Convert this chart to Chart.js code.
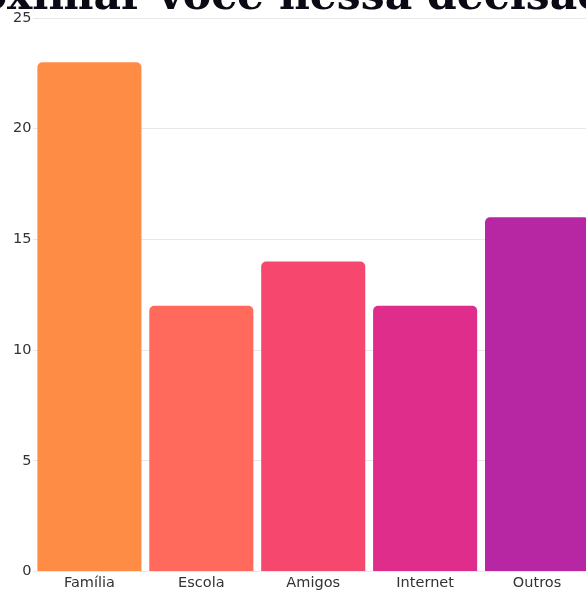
<!DOCTYPE html>
<html>
<head>
<meta charset="utf-8">
<script src="https://cdn.jsdelivr.net/npm/chart.js@4"></script>
<style>
    html, body { margin: 0; padding: 0; background: #fff; overflow: hidden; }
    body { width: 586px; height: 594px; position: relative; }
    #titulo {
        position: absolute;
        left: -101px;
        top: -31px;
        white-space: nowrap;
        font-family: "DejaVu Serif", serif;
        font-weight: bold;
        font-size: 42.5px;
        color: #0a0a14;
        z-index: 2;
    }
    #wrap { position: absolute; left: 0; top: 0; width: 600px; height: 594px; }
</style>
</head>
<body>
<div id="titulo">aproximar você nessa decisão?</div>
<div id="wrap"><canvas id="grafico"></canvas></div>
<script>
const categorias = ["Família", "Escola", "Amigos", "Internet", "Outros"];
const valores = [23, 12, 14, 12, 16];
const cores = ["#ff8c45", "#ff6a5c", "#f6486f", "#de2d8b", "#b727a3"];
const ticksY = [0, 5, 10, 15, 20, 25];

const fonteEixo = { family: "DejaVu Sans", size: 14.5 };

const ctx = document.getElementById("grafico");

new Chart(ctx, {
    type: "bar",
    data: {
        labels: categorias,
        datasets: [{
            data: valores,
            backgroundColor: cores,
            borderRadius: 5,
            borderSkipped: "bottom",
            categoryPercentage: 1,
            barPercentage: 0.93
        }]
    },
    options: {
        responsive: true,
        maintainAspectRatio: false,
        animation: false,
        layout: { padding: { top: 18, left: 11, right: 7, bottom: -1 } },
        plugins: {
            legend: { display: false },
            tooltip: { enabled: false }
        },
        scales: {
            x: {
                grid: { display: false, drawTicks: false },
                border: { display: false },
                ticks: {
                    color: "#333",
                    padding: 3,
                    font: fonteEixo
                }
            },
            y: {
                min: 0,
                max: 25,
                afterBuildTicks: axis => { axis.ticks = ticksY.map(v => ({ value: v })); },
                grid: { color: "#e8e8e8", drawTicks: false },
                border: { display: false },
                ticks: {
                    color: "#333",
                    padding: 2,
                    font: fonteEixo
                }
            }
        }
    }
});
</script>
</body>
</html>
